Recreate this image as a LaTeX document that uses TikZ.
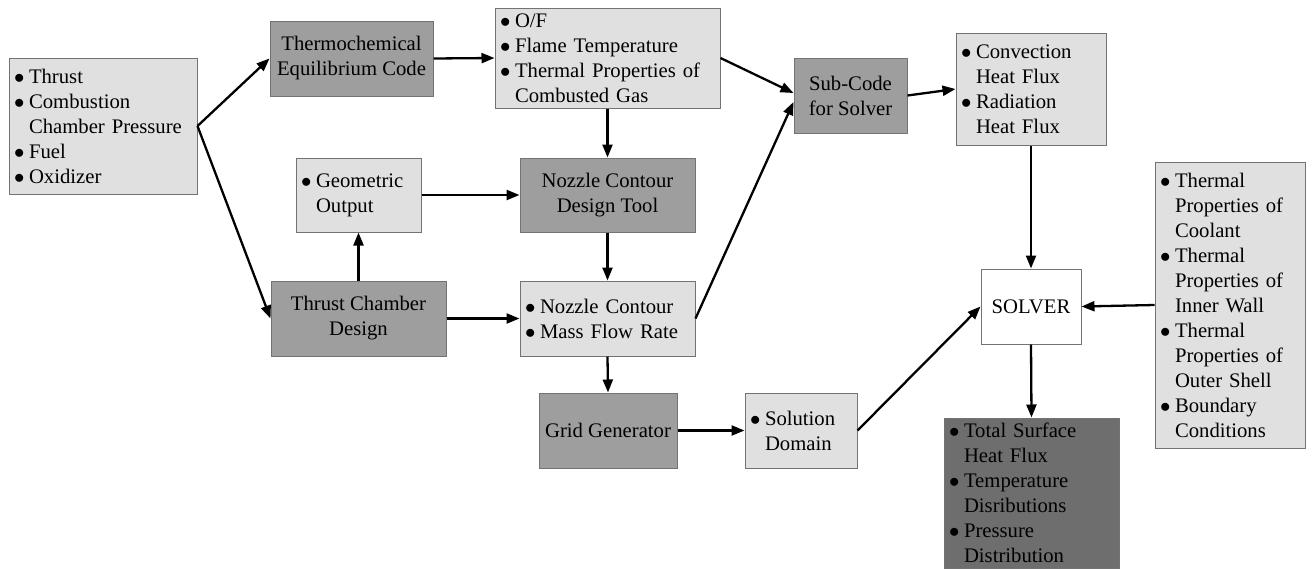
\documentclass[tikz,border=0pt]{standalone}
\usepackage{fontspec}
\setmainfont{Liberation Serif}
\usepackage{tikz}
\usetikzlibrary{arrows.meta}
\definecolor{boxlight}{gray}{0.88}
\definecolor{boxmid}{gray}{0.62}
\definecolor{boxdark}{gray}{0.43}
\definecolor{boxline}{gray}{0.45}
\newcommand{\bul}{\makebox[15pt][l]{$\bullet$}}
\newcommand{\ind}{\hspace*{15pt}}

\begin{document}
\begin{tikzpicture}[x=1pt, y=-1pt,
        blk/.style={draw=boxline, line width=1pt, inner sep=0pt, font=\fontsize{20.7pt}{25pt}\selectfont},
        listbox/.style={blk, fill=boxlight, inner xsep=5pt, align=left},
        codebox/.style={blk, fill=boxmid, align=center},
        flow/.style={line width=2.3pt, -{Triangle[length=13pt,width=10pt]}}]
            % Frame to ensure alignment:
            \useasboundingbox                                                  (0,0) rectangle (1306,568);
            % Inputs
            \node[listbox, text width=178pt, minimum height=136pt] (inp)       at ( 103.0, 126.0) {\bul Thrust\\\bul Combustion\\\ind Chamber Pressure\\\bul Fuel\\\bul Oxidizer};
            % Top row
            \node[codebox, minimum width=163pt, minimum height=75pt]  (thermo) at ( 351.5,  58.5) {Thermochemical\\Equilibrium Code};
            \node[listbox, text width=215pt, minimum height=100pt]  (gas)      at ( 607.5,  58.0) {\bul O/F\\\bul Flame Temperature\\\bul Thermal Properties of\\\ind Combusted Gas};
            \node[codebox, minimum width=113pt, minimum height=75pt]  (sub)    at ( 850.5,  95.5) {Sub-Code\\for Solver};
            \node[listbox, text width=140pt, minimum height=112pt]  (flux)     at (1031.0,  89.0) {\bul Convection\\\ind Heat Flux\\\bul Radiation\\\ind Heat Flux};
            % Middle rows
            \node[listbox, text width=115pt, minimum height=74pt]   (geo)      at ( 358.5, 195.0) {\bul Geometric\\\ind Output};
            \node[codebox, minimum width=175pt, minimum height=74pt]  (tool)   at ( 607.5, 195.0) {Nozzle Contour\\Design Tool};
            \node[codebox, minimum width=175pt, minimum height=75pt]  (tcd)    at ( 358.5, 318.5) {Thrust Chamber\\Design};
            \node[listbox, text width=165pt, minimum height=75pt]   (contour)  at ( 607.5, 318.5) {\bul Nozzle Contour\\\bul Mass Flow Rate};
            \node[codebox, minimum width=138pt, minimum height=75pt]  (grid)   at ( 608.0, 430.5) {Grid Generator};
            \node[listbox, text width=102pt, minimum height=75pt]   (dom)      at ( 801.0, 430.5) {\bul Solution\\\ind Domain};
            % Solver and its data
            \node[blk, fill=white, minimum width=100pt, minimum height=75pt] (solver) at (1031.0, 306.5) {SOLVER};
            \node[listbox, text width=140pt, minimum height=286pt]  (prop)     at (1230.0, 305.0) {\bul Thermal\\\ind Properties of\\\ind Coolant\\\bul Thermal\\\ind Properties of\\\ind Inner Wall\\\bul Thermal\\\ind Properties of\\\ind Outer Shell\\\bul Boundary\\\ind Conditions};
            \node[listbox, fill=boxdark, text width=165pt, minimum height=150pt] (res) at (1031.5, 493.0) {\bul Total Surface\\\ind Heat Flux\\\bul Temperature\\\ind Disributions\\\bul Pressure\\\ind Distribution};
            % Connectors
            \draw[flow] (inp.east)     -- (thermo.west);
            \draw[flow] (inp.east)     -- (tcd.west);
            \draw[flow] (thermo.east)  -- (gas.west);
            \draw[flow] (gas.east)     -- ([yshift=2.5pt]sub.west);
            \draw[flow] (contour.east) -- ([yshift=-6.5pt]sub.west);
            \draw[flow] (sub.east)     -- (flux.west);
            \draw[flow] (gas.south)    -- (tool.north);
            \draw[flow] (geo.east)     -- (tool.west);
            \draw[flow] (tcd.north)    -- (geo.south);
            \draw[flow] (tool.south)   -- (contour.north);
            \draw[flow] (tcd.east)     -- (contour.west);
            \draw[flow] (contour.south)-- (grid.north);
            \draw[flow] (grid.east)    -- (dom.west);
            \draw[flow] (dom.east)     -- (solver.west);
            \draw[flow] (flux.south)   -- (solver.north);
            \draw[flow] (prop.west)    -- (solver.east);
            \draw[flow] (solver.south) -- (res.north);
\end{tikzpicture}
\end{document}
